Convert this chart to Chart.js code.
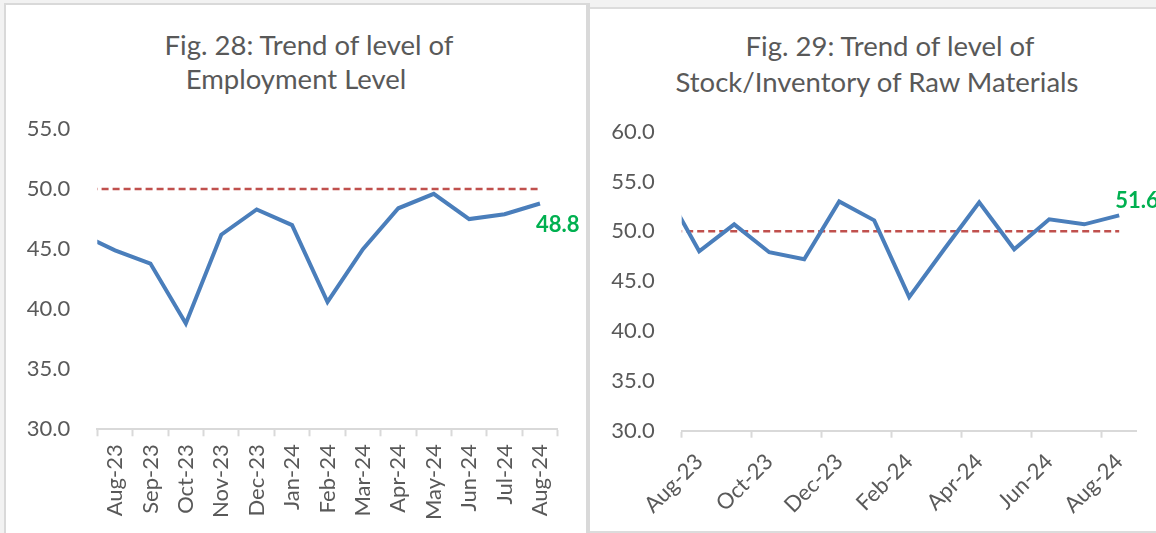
<!DOCTYPE html>
<html>
<head>
<meta charset="utf-8">
<script src="https://cdn.jsdelivr.net/npm/chart.js@4.4.1/dist/chart.umd.min.js"></script>
<style>
  html, body { margin: 0; padding: 0; background: #f2f2f2; overflow: hidden; }
  body { width: 1156px; height: 533px; position: relative; font-family: Lato, sans-serif; }
  .panel { position: absolute; background: #fff; box-sizing: border-box; }
  #left-panel { left: 4px; top: 3px; width: 586px; height: 545px; border-left: 2px solid #d9d9d9; border-top: 2px solid #d9d9d9; border-right: 4px solid #d9d9d9; }
  #right-panel { left: 590px; top: 7px; width: 580px; height: 526px; border-top: 2px solid #dcdcdc; border-bottom: 2px solid #dcdcdc; }
  canvas { position: absolute; }
  #emp-chart { left: 6px; top: 5px; }
  #stock-chart { left: 590px; top: 9px; }
  .title-line { position: absolute; width: 500px; text-align: center; font-size: 27.5px; line-height: 34px; color: #595959; white-space: nowrap; }
</style>
</head>
<body>
<div class="panel" id="left-panel"></div>
<div class="panel" id="right-panel"></div>
<div class="title-line" style="left: 59px; top: 28px;">Fig. 28: Trend of level of</div>
<div class="title-line" style="left: 46px; top: 62px;">Employment Level</div>
<div class="title-line" style="left: 640px; top: 29px;">Fig. 29: Trend of level of</div>
<div class="title-line" style="left: 627px; top: 65px;">Stock/Inventory of Raw Materials</div>
<canvas id="emp-chart" width="580" height="528"></canvas>
<canvas id="stock-chart" width="566" height="522"></canvas>
<script>
// month labels (Jul-23 sits just outside the visible axis, like the source chart)
const months = ['Jul-23', 'Aug-23', 'Sep-23', 'Oct-23', 'Nov-23', 'Dec-23', 'Jan-24',
  'Feb-24', 'Mar-24', 'Apr-24', 'May-24', 'Jun-24', 'Jul-24', 'Aug-24'];

// Fig. 28 employment level
const employment = [46.3, 44.9, 43.8, 38.8, 46.2, 48.3, 47.0, 40.6, 45.0, 48.4, 49.6, 47.5, 47.9, 48.8];
// Fig. 29 stock/inventory of raw materials
const stock = [54.3, 48.0, 50.7, 47.9, 47.2, 53.0, 51.1, 43.4, 48.2, 52.9, 48.2, 51.2, 50.7, 51.6];
// 50 threshold line
const threshold = [50, 50, 50, 50, 50, 50, 50, 50, 50, 50, 50, 50, 50, 50];

const empTicks = [30, 35, 40, 45, 50, 55];
const stockTicks = [30, 35, 40, 45, 50, 55, 60];

const empLastValue = '48.8';
const stockLastValue = '51.6';

const GREY = '#595959';
const AXIS = '#d9d9d9';
const BLUE = '#4a7ebb';
const RED = '#c0504d';
const GREEN = '#00b050';

// draw the value of the last point in green
function lastValuePlugin(text, dx, dy) {
  return {
    id: 'lastValue',
    afterDatasetsDraw(chart) {
      const meta = chart.getDatasetMeta(0);
      const pt = meta.data[meta.data.length - 1];
      const c = chart.ctx;
      c.save();
      c.font = 'bold 22px Lato';
      c.fillStyle = GREEN;
      c.textAlign = 'left';
      c.textBaseline = 'middle';
      c.fillText(text, pt.x + dx, pt.y + dy);
      c.restore();
    }
  };
}

function makeChart(id, cfg) {
  const ctx = document.getElementById(id).getContext('2d');
  return new Chart(ctx, {
    type: 'line',
    data: {
      labels: months,
      datasets: [
        { data: cfg.values, borderColor: BLUE, borderWidth: 4, pointRadius: 0, tension: 0 },
        { data: threshold, borderColor: RED, borderWidth: 2.5, borderDash: [7, 4], pointRadius: 0, tension: 0 }
      ]
    },
    options: {
      responsive: false,
      animation: false,
      layout: { padding: { left: 0, right: cfg.padRight, top: cfg.padTop, bottom: 0 } },
      plugins: {
        legend: { display: false },
        tooltip: { enabled: false },
        title: { display: false }
      },
      scales: {
        x: {
          type: 'category',
          min: 'Aug-23',
          offset: true,
          afterFit: s => { s.height = cfg.xHeight; },
          border: { display: true, color: AXIS, width: 2 },
          grid: {
            display: true,
            drawOnChartArea: false,
            drawTicks: true,
            tickLength: 7,
            tickWidth: 2,
            offset: true,
            color: c => cfg.tickEvery2 ? (c.type === 'tick' && c.index % 2 === 0 ? AXIS : 'rgba(0,0,0,0)') : AXIS
          },
          ticks: {
            autoSkip: false,
            minRotation: cfg.rotation,
            maxRotation: cfg.rotation,
            padding: cfg.xPad,
            color: GREY,
            font: { family: 'Lato', size: 22 },
            callback: function (v, i) {
              if (cfg.tickEvery2 && i % 2 === 1) return '';
              return this.getLabelForValue(v);
            }
          }
        },
        y: {
          min: cfg.yTicks[0],
          max: cfg.yTicks[cfg.yTicks.length - 1],
          afterFit: s => { s.width = cfg.yWidth; },
          afterBuildTicks: s => { s.ticks = cfg.yTicks.map(v => ({ value: v })); },
          border: { display: false },
          grid: { display: false, drawTicks: false },
          ticks: {
            padding: 27,
            color: GREY,
            font: { family: 'Lato', size: 22 },
            callback: v => v.toFixed(1)
          }
        }
      }
    },
    plugins: [lastValuePlugin(cfg.label, cfg.labelDx, cfg.labelDy)]
  });
}

makeChart('emp-chart', {
  values: employment,
  yTicks: empTicks,
  padTop: 124,
  yWidth: 91.3, xHeight: 103.7, padRight: 28.3,
  rotation: 90, xPad: 8, tickEvery2: false,
  label: empLastValue, labelDx: -4, labelDy: 21
});

makeChart('stock-chart', {
  values: stock,
  yTicks: stockTicks,
  padTop: 122.6,
  yWidth: 91.7, xHeight: 100.3, padRight: 19.3,
  rotation: 45, xPad: 11, tickEvery2: true,
  label: stockLastValue, labelDx: -4, labelDy: -14
});
</script>
</body>
</html>
